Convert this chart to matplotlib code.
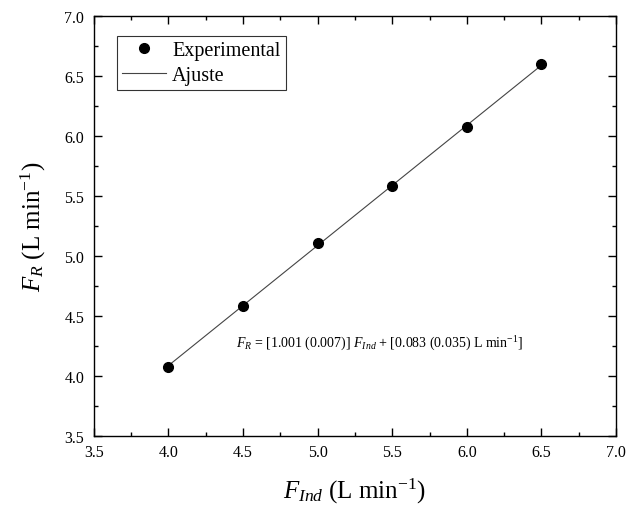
import numpy as np
import matplotlib
matplotlib.use("Agg")
import matplotlib.pyplot as plt

# data
f_ind = [4.0, 4.5, 5.0, 5.5, 6.0, 6.5]
f_r = [4.078, 4.583, 5.108, 5.581, 6.078, 6.602]

# fit reported on the chart
slope = 1.001
intercept = 0.083

x_ticks = [3.5, 4.0, 4.5, 5.0, 5.5, 6.0, 6.5, 7.0]
y_ticks = [3.5, 4.0, 4.5, 5.0, 5.5, 6.0, 6.5, 7.0]

plt.rcParams["font.family"] = ["Liberation Serif", "DejaVu Serif"]
plt.rcParams["mathtext.fontset"] = "custom"
plt.rcParams["mathtext.rm"] = "Liberation Serif"
plt.rcParams["mathtext.it"] = "Liberation Serif:italic"
plt.rcParams["mathtext.bf"] = "Liberation Serif:bold"


def plot_calibration():
    fig = plt.figure(figsize=(6.26, 5.06), dpi=100)
    ax = fig.add_axes([0.150, 0.1364, 0.834, 0.830])

    x_fit = np.array([f_ind[0], f_ind[-1]])
    y_fit = slope * x_fit + intercept

    ax.plot(f_ind, f_r, "o", color="black", markersize=7, label="Experimental", zorder=3)
    ax.plot(x_fit, y_fit, "-", color="#444444", linewidth=0.8, label="Ajuste", zorder=2)

    ax.set_xlim(3.5, 7.0)
    ax.set_ylim(3.5, 7.0)
    ax.set_xticks(x_ticks)
    ax.set_yticks(y_ticks)
    ax.set_xticklabels([f"{v:.1f}" for v in x_ticks])
    ax.set_yticklabels([f"{v:.1f}" for v in y_ticks])
    ax.set_xticks(np.arange(3.75, 7.0, 0.5), minor=True)
    ax.set_yticks(np.arange(3.75, 7.0, 0.5), minor=True)

    ax.tick_params(which="both", direction="in", top=True, right=True, width=1.0)
    ax.tick_params(which="major", length=5.5, labelsize=11.5)
    ax.tick_params(axis="x", which="major", pad=6)
    ax.tick_params(axis="y", which="major", pad=7)
    ax.tick_params(which="minor", length=3)
    for sp in ax.spines.values():
        sp.set_linewidth(1.0)

    ax.set_xlabel(r"$F_{Ind}$ (L min$^{-1}$)", fontsize=18, labelpad=11)
    ax.set_ylabel(r"$F_{R}$ (L min$^{-1}$)", fontsize=18, labelpad=12)

    ax.text(4.45, 4.28,
            r"$F_{R}$ = [1.001 (0.007)] $F_{Ind}$ + [0.083 (0.035) L min$^{-1}$]",
            fontsize=10, ha="left", va="center")

    leg = ax.legend(loc="upper left", bbox_to_anchor=(0.044, 0.952), fontsize=14.5,
                    frameon=True, fancybox=False, borderpad=0.25,
                    handlelength=2.2, handletextpad=0.3, labelspacing=0.3,
                    borderaxespad=0)
    leg.get_frame().set_edgecolor("black")
    leg.get_frame().set_linewidth(0.8)

    fig.savefig("out.png", dpi=100)


if __name__ == "__main__":
    plot_calibration()
